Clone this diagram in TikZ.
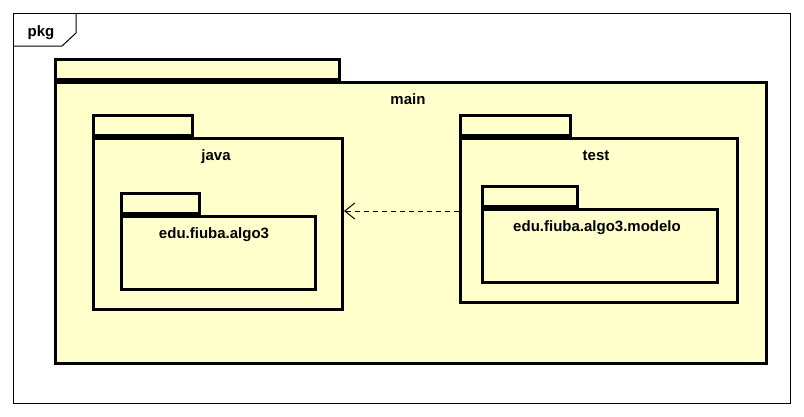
\documentclass[tikz,border=0pt]{standalone}
\usepackage{fontspec}
\setmainfont{Liberation Sans}
\usetikzlibrary{arrows.meta}
\definecolor{pkgfill}{HTML}{FFFFCC}
\tikzset{
  pkgbox/.style={draw=black, fill=pkgfill, line width=3pt, inner sep=0pt, anchor=north west, rectangle},
  pkgtab/.style={draw=black, fill=pkgfill, line width=3pt, inner sep=0pt, anchor=south west, rectangle, minimum height=20pt},
  pkglabel/.style={font=\fontsize{15}{17}\selectfont\bfseries, inner sep=0pt, anchor=base},
  dep/.style={draw=black, line width=1pt, dash pattern=on 5pt off 4pt, -{Straight Barb[length=10pt,width=16pt,line width=1pt]}},
}
\begin{document}
\begin{tikzpicture}[x=1pt,y=-1pt]
\useasboundingbox (0,0) rectangle (804,416);
\fill[white] (0,0) rectangle (804,416);
% frame
\node[draw=black, line width=1pt, fill=white, inner sep=0pt, anchor=north west, minimum width=777pt, minimum height=390pt] (frame) at (13,13) {};
\draw[line width=1pt] (13,46) -- (62,46) -- (76,33) -- (76,13);
\node[pkglabel] (pkg) at (41,36) {pkg};
% main
\node[pkgbox, minimum width=711pt, minimum height=281pt] (main) at (54,81) {};
\node[pkgtab, minimum width=284pt] (maintab) at (54,81) {};
\node[pkglabel] (mainlbl) at (408,104) {main};
% java
\node[pkgbox, minimum width=249pt, minimum height=171pt] (java) at (92,137) {};
\node[pkgtab, minimum width=99pt] (javatab) at (92,137) {};
\node[pkglabel] (javalbl) at (216,160) {java};
% edu.fiuba.algo3
\node[pkgbox, minimum width=194pt, minimum height=73pt] (algo) at (120,215) {};
\node[pkgtab, minimum width=78pt] (algotab) at (120,215) {};
\node[pkglabel] (algolbl) at (214,238) {edu.fiuba.algo3};
% test
\node[pkgbox, minimum width=277pt, minimum height=164pt] (test) at (459,137) {};
\node[pkgtab, minimum width=110pt] (testtab) at (459,137) {};
\node[pkglabel] (testlbl) at (596,160) {test};
% modelo
\node[pkgbox, minimum width=235pt, minimum height=73pt] (modelo) at (481,208) {};
\node[pkgtab, minimum width=95pt] (modelotab) at (481,208) {};
\node[pkglabel] (modelolbl) at (597,231) {edu.fiuba.algo3.modelo};
% dependency
\draw[dep] (test.west |- 0,211) -- (java.east |- 0,211);
\end{tikzpicture}
\end{document}
